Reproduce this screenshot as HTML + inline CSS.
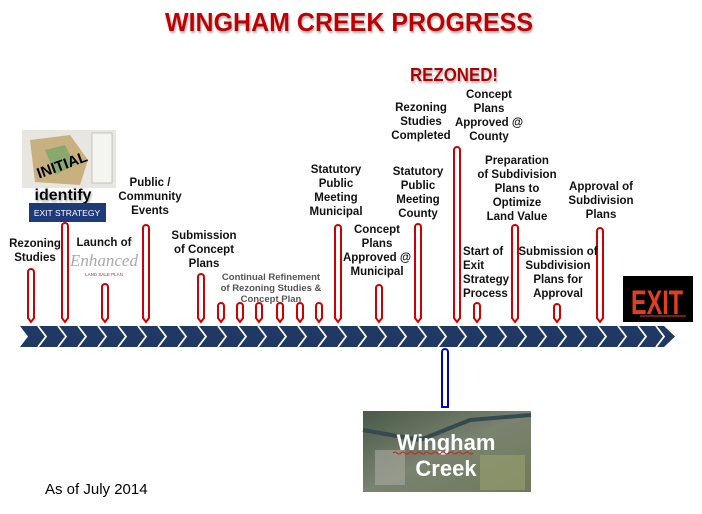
<!DOCTYPE html>
<html><head><meta charset="utf-8"><style>
html,body{margin:0;padding:0;background:#fff;}
svg{display:block;}
.l{font-family:"Liberation Sans",sans-serif;font-weight:bold;font-size:11.5px;fill:#111;text-anchor:middle;}
.g{font-family:"Liberation Sans",sans-serif;font-weight:bold;font-size:9.5px;fill:#555;text-anchor:middle;}
</style></head><body>
<svg width="702" height="514" viewBox="0 0 702 514" xmlns="http://www.w3.org/2000/svg">
<defs>
<filter id="sh"><feDropShadow dx="1" dy="2" stdDeviation="1" flood-color="#888" flood-opacity="0.7"/></filter>
<linearGradient id="ph" x1="0" y1="0" x2="1" y2="1"><stop offset="0" stop-color="#4a5a48"/><stop offset="0.5" stop-color="#7a8270"/><stop offset="1" stop-color="#6f7a58"/></linearGradient>
</defs>
<text x="349" y="31" font-family="Liberation Sans,sans-serif" font-weight="bold" font-size="26" fill="#c00000" text-anchor="middle" textLength="368" lengthAdjust="spacingAndGlyphs" filter="url(#sh)">WINGHAM CREEK PROGRESS</text>
<text x="454" y="81" font-family="Liberation Sans,sans-serif" font-weight="bold" font-size="18" fill="#b00000" text-anchor="middle" textLength="88" lengthAdjust="spacingAndGlyphs" filter="url(#sh)">REZONED!</text>

<!-- band -->
<polygon points="20,326 664,326 675,336.5 664,347 20,347 28,336.5" fill="#1f3864"/>
<g stroke="#fff" stroke-width="2" fill="none">
<script></script>
</g>
<g id="chev" stroke="#fff" stroke-width="1.8" fill="none">
<polyline points="38,326 46,336.5 38,347"/><polyline points="58,326 66,336.5 58,347"/><polyline points="78,326 86,336.5 78,347"/><polyline points="98,326 106,336.5 98,347"/><polyline points="118,326 126,336.5 118,347"/><polyline points="138,326 146,336.5 138,347"/><polyline points="158,326 166,336.5 158,347"/><polyline points="178,326 186,336.5 178,347"/><polyline points="198,326 206,336.5 198,347"/><polyline points="218,326 226,336.5 218,347"/><polyline points="238,326 246,336.5 238,347"/><polyline points="258,326 266,336.5 258,347"/><polyline points="278,326 286,336.5 278,347"/><polyline points="298,326 306,336.5 298,347"/><polyline points="318,326 326,336.5 318,347"/><polyline points="338,326 346,336.5 338,347"/><polyline points="358,326 366,336.5 358,347"/><polyline points="378,326 386,336.5 378,347"/><polyline points="398,326 406,336.5 398,347"/><polyline points="418,326 426,336.5 418,347"/><polyline points="438,326 446,336.5 438,347"/><polyline points="458,326 466,336.5 458,347"/><polyline points="478,326 486,336.5 478,347"/><polyline points="498,326 506,336.5 498,347"/><polyline points="518,326 526,336.5 518,347"/><polyline points="538,326 546,336.5 538,347"/><polyline points="558,326 566,336.5 558,347"/><polyline points="578,326 586,336.5 578,347"/><polyline points="598,326 606,336.5 598,347"/><polyline points="618,326 626,336.5 618,347"/><polyline points="638,326 646,336.5 638,347"/><polyline points="656,326 664,336.5 656,347"/>
</g>

<!-- red pins -->
<g fill="#fff" stroke="#d00000" stroke-width="2">
<path d="M28,272 a3,3 0 0 1 6,0 V318 L31,322 L28,318Z"/>
<path d="M62,226 a3,3 0 0 1 6,0 V318 L65,322 L62,318Z"/>
<path d="M102,287 a3,3 0 0 1 6,0 V318 L105,322 L102,318Z"/>
<path d="M143,228 a3,3 0 0 1 6,0 V318 L146,322 L143,318Z"/>
<path d="M198,277 a3,3 0 0 1 6,0 V318 L201,322 L198,318Z"/>
<path d="M218,306 a3,3 0 0 1 6,0 V318 L221,322 L218,318Z"/>
<path d="M237,306 a3,3 0 0 1 6,0 V318 L240,322 L237,318Z"/>
<path d="M256,306 a3,3 0 0 1 6,0 V318 L259,322 L256,318Z"/>
<path d="M277,306 a3,3 0 0 1 6,0 V318 L280,322 L277,318Z"/>
<path d="M297,306 a3,3 0 0 1 6,0 V318 L300,322 L297,318Z"/>
<path d="M316,306 a3,3 0 0 1 6,0 V318 L319,322 L316,318Z"/>
<path d="M335,228 a3,3 0 0 1 6,0 V318 L338,322 L335,318Z"/>
<path d="M376,288 a3,3 0 0 1 6,0 V318 L379,322 L376,318Z"/>
<path d="M415,227 a3,3 0 0 1 6,0 V318 L418,322 L415,318Z"/>
<path d="M454,150 a3,3 0 0 1 6,0 V318 L457,322 L454,318Z"/>
<path d="M474,306 a3,3 0 0 1 6,0 V318 L477,322 L474,318Z"/>
<path d="M512,228 a3,3 0 0 1 6,0 V318 L515,322 L512,318Z"/>
<path d="M554,307 a3,3 0 0 1 6,0 V318 L557,322 L554,318Z"/>
<path d="M597,231 a3,3 0 0 1 6,0 V318 L600,322 L597,318Z"/>
</g>
<!-- blue pin -->
<path d="M442,352 a3,3 0 0 1 6,0 V407 H442Z" fill="#fff" stroke="#0000cc" stroke-width="2"/>

<!-- labels -->
<text class="l"><tspan x="35" y="247">Rezoning</tspan><tspan x="35" y="261">Studies</tspan></text>
<text class="l"><tspan x="104" y="246">Launch of</tspan></text>
<text x="104" y="266" font-family="Liberation Serif,serif" font-style="italic" font-size="17" fill="#aaa" text-anchor="middle">Enhanced</text>
<text x="104" y="276" font-family="Liberation Sans,sans-serif" font-size="4.5" fill="#8a4040" text-anchor="middle">LAND SALE PLAN</text>
<text class="l"><tspan x="150" y="186">Public /</tspan><tspan x="150" y="200">Community</tspan><tspan x="150" y="214">Events</tspan></text>
<text class="l"><tspan x="204" y="239">Submission</tspan><tspan x="204" y="253">of Concept</tspan><tspan x="204" y="267">Plans</tspan></text>
<text class="g"><tspan x="271" y="280">Continual Refinement</tspan><tspan x="271" y="291">of Rezoning Studies &amp;</tspan><tspan x="271" y="302">Concept Plan</tspan></text>
<text class="l"><tspan x="336" y="173">Statutory</tspan><tspan x="336" y="187">Public</tspan><tspan x="336" y="201">Meeting</tspan><tspan x="336" y="215">Municipal</tspan></text>
<text class="l"><tspan x="377" y="233">Concept</tspan><tspan x="377" y="247">Plans</tspan><tspan x="377" y="261">Approved @</tspan><tspan x="377" y="275">Municipal</tspan></text>
<text class="l"><tspan x="418" y="175">Statutory</tspan><tspan x="418" y="189">Public</tspan><tspan x="418" y="203">Meeting</tspan><tspan x="418" y="217">County</tspan></text>
<text class="l"><tspan x="421" y="111">Rezoning</tspan><tspan x="421" y="125">Studies</tspan><tspan x="421" y="139">Completed</tspan></text>
<text class="l"><tspan x="489" y="98">Concept</tspan><tspan x="489" y="112">Plans</tspan><tspan x="489" y="126">Approved @</tspan><tspan x="489" y="140">County</tspan></text>
<text class="l"><tspan x="517" y="164">Preparation</tspan><tspan x="517" y="178">of Subdivision</tspan><tspan x="517" y="192">Plans to</tspan><tspan x="517" y="206">Optimize</tspan><tspan x="517" y="220">Land Value</tspan></text>
<text class="l" style="text-anchor:start"><tspan x="463" y="255">Start of</tspan><tspan x="463" y="269">Exit</tspan><tspan x="463" y="283">Strategy</tspan><tspan x="463" y="297">Process</tspan></text>
<text class="l"><tspan x="558" y="255">Submission of</tspan><tspan x="558" y="269">Subdivision</tspan><tspan x="558" y="283">Plans for</tspan><tspan x="558" y="297">Approval</tspan></text>
<text class="l"><tspan x="601" y="190">Approval of</tspan><tspan x="601" y="204">Subdivision</tspan><tspan x="601" y="218">Plans</tspan></text>

<!-- initial identify graphic -->
<rect x="22" y="130" width="94" height="58" fill="#e8e6e0"/>
<path d="M30,140 L70,135 L88,160 L80,185 L35,182Z" fill="#c9b080"/>
<path d="M45,150 L65,145 L75,165 L55,175Z" fill="#8aa870"/>
<rect x="92" y="133" width="20" height="50" fill="#f4f4f0" stroke="#999" stroke-width="0.5"/>
<text x="62" y="170" font-family="Liberation Sans,sans-serif" font-weight="bold" font-size="15" fill="#000" text-anchor="middle" transform="rotate(-20 62 165)">INITIAL</text>
<text x="63" y="200" font-family="Liberation Sans,sans-serif" font-weight="bold" font-size="16" fill="#000" text-anchor="middle" filter="url(#sh)">identify</text>
<rect x="29" y="203" width="77" height="19" fill="#1f3a78"/>
<text x="67" y="216" font-family="Liberation Sans,sans-serif" font-size="8.5" fill="#fff" text-anchor="middle">EXIT  STRATEGY</text>

<!-- EXIT sign -->
<rect x="623" y="276" width="70" height="46" fill="#000"/>
<text x="657" y="314" font-family="Liberation Sans,sans-serif" font-weight="bold" font-size="34" fill="#e04020" text-anchor="middle" textLength="52" lengthAdjust="spacingAndGlyphs">EXIT</text>
<line x1="640" y1="316" x2="686" y2="316" stroke="#c03010" stroke-width="1.2"/>

<!-- photo -->
<rect x="363" y="411" width="168" height="81" fill="url(#ph)"/>
<path d="M363,430 L420,440 L470,420 L531,415" stroke="#354a50" stroke-width="4" fill="none"/>
<rect x="375" y="450" width="30" height="35" fill="#a8aaa0" opacity="0.6"/>
<rect x="480" y="455" width="45" height="35" fill="#9aa070" opacity="0.6"/>
<text x="446" y="450" font-family="Liberation Sans,sans-serif" font-weight="bold" font-size="22" fill="#fff" text-anchor="middle">Wingham</text>
<path d="M393,453 q2,-2 4,0 t4,0 t4,0 t4,0 t4,0 t4,0 t4,0 t4,0 t4,0 t4,0 t4,0 t4,0 t4,0 t4,0 t4,0 t4,0 t4,0 t4,0 t4,0 t4,0" stroke="#d02020" stroke-width="1" fill="none"/>
<text x="446" y="476" font-family="Liberation Sans,sans-serif" font-weight="bold" font-size="22" fill="#fff" text-anchor="middle">Creek</text>

<text x="45" y="494" font-family="Liberation Sans,sans-serif" font-size="15" fill="#000">As of July 2014</text>
</svg>
</body></html>
